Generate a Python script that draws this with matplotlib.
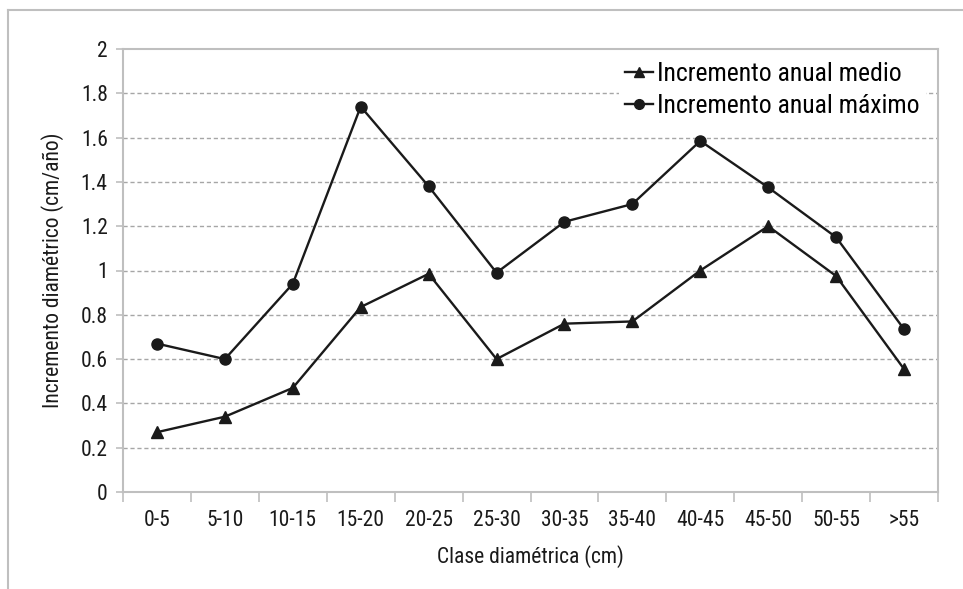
import matplotlib
matplotlib.use('Agg')
import matplotlib.pyplot as plt
import numpy as np
from matplotlib.lines import Line2D

plt.rcParams['font.family'] = ['Roboto Condensed', 'DejaVu Sans']

clases = ['0-5', '5-10', '10-15', '15-20', '20-25', '25-30', '30-35',
          '35-40', '40-45', '45-50', '50-55', '>55']
inc_medio = [0.27, 0.34, 0.47, 0.835, 0.985, 0.60, 0.76, 0.77, 1.00, 1.20, 0.975, 0.555]
inc_maximo = [0.67, 0.60, 0.94, 1.74, 1.38, 0.99, 1.22, 1.30, 1.585, 1.375, 1.15, 0.735]
y_ticks = [0, 0.2, 0.4, 0.6, 0.8, 1, 1.2, 1.4, 1.6, 1.8, 2]

GRAY = '#bfbfbf'
INK = '#1a1a1a'

fig = plt.figure(figsize=(9.63, 5.89), dpi=100)
ax = fig.add_axes([123 / 963, 1 - 492 / 589, (938 - 123) / 963, (492 - 49) / 589])

x = np.arange(len(clases))
ax.plot(x, inc_medio, color=INK, lw=1.7, marker='^', ms=8.5, label='Incremento anual medio')
ax.plot(x, inc_maximo, color=INK, lw=1.7, marker='o', ms=8, label='Incremento anual máximo')

ax.set_xlim(-0.5, len(clases) - 0.5)
ax.set_ylim(0, 2)
ax.set_yticks(y_ticks)
ax.set_yticklabels([f'{v:g}' for v in y_ticks])
ax.set_xticks(x)
ax.set_xticklabels(clases)
ax.set_xticks(np.arange(-0.5, len(clases), 1), minor=True)

for v in y_ticks[1:-1]:
    ax.axhline(v, color='#a6a6a6', lw=1, ls=(0, (3, 2)), zorder=0)

for s in ax.spines.values():
    s.set_color(GRAY)
    s.set_linewidth(1.5)

ax.tick_params(axis='y', which='major', length=5, width=1.2, color=GRAY,
               labelsize=15.5, pad=6, labelcolor=INK)
ax.tick_params(axis='x', which='major', length=0, labelsize=15.5, pad=13, labelcolor=INK)
ax.tick_params(axis='x', which='minor', length=7, width=1.2, color=GRAY)

ax.set_xlabel('Clase diamétrica (cm)', fontsize=15.5, color=INK, labelpad=10)
ax.set_ylabel('Incremento diamétrico (cm/año)', fontsize=15.5, color=INK, labelpad=12)

leg = ax.legend(loc='upper left', bbox_to_anchor=(0.608, 0.985), frameon=True,
                fontsize=18.5, handlelength=1.1, handletextpad=0.15,
                borderaxespad=0, labelspacing=0.32, borderpad=0.25)
leg.get_frame().set_edgecolor('none')
leg.get_frame().set_facecolor('white')
leg.get_frame().set_alpha(1)
for h in leg.legend_handles:
    h.set_markersize(7)

# outer frame of the original figure
fig.add_artist(Line2D([8 / 963, 1], [1 - 10 / 589, 1 - 10 / 589], color=GRAY, lw=1.5))
fig.add_artist(Line2D([8 / 963, 8 / 963], [0, 1 - 10 / 589], color=GRAY, lw=1.5))

fig.savefig('out.png', dpi=100)
